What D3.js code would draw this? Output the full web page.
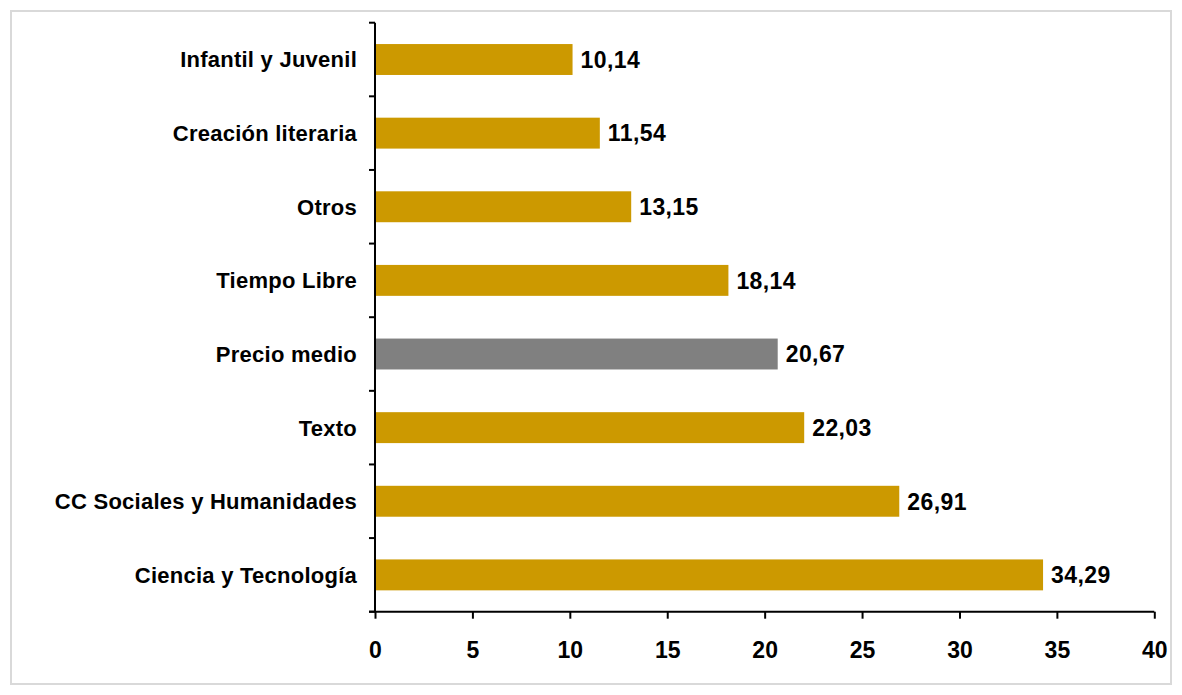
<!DOCTYPE html>
<html><head><meta charset="utf-8">
<script src="https://cdn.jsdelivr.net/npm/d3@7"></script>
<style>html,body{margin:0;padding:0;background:#fff;}svg{display:block;}</style>
</head><body>
<svg id="c" width="1182" height="695"></svg>
<script>
const categories = ["Infantil y Juvenil","Creación literaria","Otros","Tiempo Libre","Precio medio","Texto","CC Sociales y Humanidades","Ciencia y Tecnología"];
const values = [10.14,11.54,13.15,18.14,20.67,22.03,26.91,34.29];
const highlight = ["Precio medio"];
const xTicks = [0,5,10,15,20,25,30,35,40];

(function(){
const svg = d3.select("#c");
svg.append("rect").attr("x",11).attr("y",11).attr("width",1160).attr("height",673)
  .attr("fill","#fff").attr("stroke","#d9d9d9").attr("stroke-width",2);

const pLeft = 375, pRight = 1154.3, pTop = 22.7, pBottom = 611.7;
const x = d3.scaleLinear().domain([0,40]).range([pLeft,pRight]);
const y = d3.scaleBand().domain(categories).range([pTop,pBottom]).paddingInner(0.58).paddingOuter(0.29);

const font = "'Liberation Sans', Arial, sans-serif";

svg.selectAll("rect.bar").data(categories).join("rect").attr("class","bar")
  .attr("x",x(0)).attr("y",d=>y(d)).attr("height",y.bandwidth())
  .attr("width",(d,i)=>x(values[i])-x(0))
  .attr("fill",d=>highlight.includes(d)?"#808080":"#CC9900");

svg.selectAll("text.val").data(categories).join("text").attr("class","val")
  .attr("x",(d,i)=>x(values[i])+8).attr("y",d=>y(d)+y.bandwidth()/2)
  .attr("dy","0.36em").attr("font-family",font).attr("font-weight","bold").attr("font-size",23)
  .attr("letter-spacing","0.4px").attr("fill","#000")
  .text((d,i)=>d3.format(".2f")(values[i]).replace(".",","));

// y axis
const yStep = (pBottom-pTop)/categories.length;
const yTickPos = d3.range(categories.length+1).map(i=>pTop+i*yStep);
const gy = svg.append("g");
gy.append("line").attr("x1",pLeft).attr("x2",pLeft).attr("y1",pTop).attr("y2",pBottom).attr("stroke","#000").attr("stroke-width",2);
gy.selectAll("line.t").data(yTickPos).join("line").attr("class","t")
  .attr("x1",pLeft-6).attr("x2",pLeft).attr("y1",d=>d).attr("y2",d=>d).attr("stroke","#000").attr("stroke-width",2);
gy.selectAll("text").data(categories).join("text")
  .attr("x",357).attr("y",d=>y(d)+y.bandwidth()/2).attr("dy","0.36em")
  .attr("text-anchor","end").attr("font-family",font).attr("font-weight","bold").attr("font-size",22)
  .attr("letter-spacing","0.25px").attr("fill","#000").text(d=>d);

// x axis
const xAxis = d3.axisBottom(x).tickValues(xTicks).tickSize(7).tickSizeOuter(0).tickPadding(23).tickFormat(d3.format("d"));
const gx = svg.append("g").attr("transform",`translate(0,${pBottom})`).call(xAxis);
gx.select(".domain").attr("stroke","#000").attr("stroke-width",2).attr("d",`M${pLeft-6},0H${pRight}`);
gx.selectAll(".tick line").attr("stroke","#000").attr("stroke-width",2);
gx.selectAll(".tick text").attr("font-family",font).attr("font-weight","bold").attr("font-size",23).attr("fill","#000");
})();
</script>
</body></html>
